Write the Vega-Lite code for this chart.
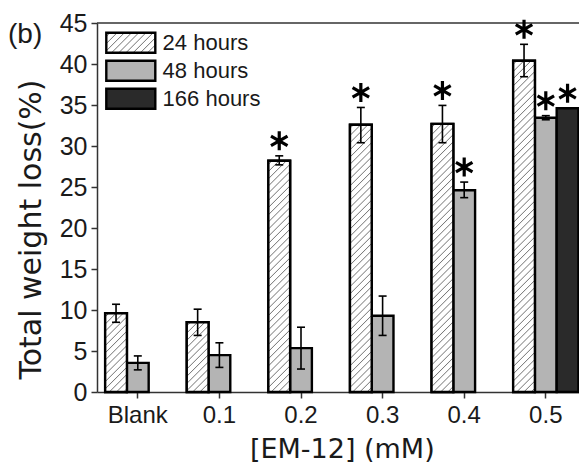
{
  "$schema": "https://vega.github.io/schema/vega-lite/v6.json",
  "width": 482,
  "height": 369,
  "autosize": {"type": "none"},
  "padding": {"left": 97, "top": 23, "right": 0, "bottom": 70},
  "background": "white",
  "config": {"view": {"stroke": null}},
  "params": [
    {"name": "hatch", "value": [
      {"offset":0.007,"color":"#fff"},{"offset":0.01,"color":"#7a7a7a"},{"offset":0.013,"color":"#fff"},
      {"offset":0.027,"color":"#fff"},{"offset":0.03,"color":"#7a7a7a"},{"offset":0.033,"color":"#fff"},
      {"offset":0.047,"color":"#fff"},{"offset":0.05,"color":"#7a7a7a"},{"offset":0.053,"color":"#fff"},
      {"offset":0.067,"color":"#fff"},{"offset":0.07,"color":"#7a7a7a"},{"offset":0.073,"color":"#fff"},
      {"offset":0.087,"color":"#fff"},{"offset":0.09,"color":"#7a7a7a"},{"offset":0.093,"color":"#fff"},
      {"offset":0.107,"color":"#fff"},{"offset":0.11,"color":"#7a7a7a"},{"offset":0.113,"color":"#fff"},
      {"offset":0.127,"color":"#fff"},{"offset":0.13,"color":"#7a7a7a"},{"offset":0.133,"color":"#fff"},
      {"offset":0.147,"color":"#fff"},{"offset":0.15,"color":"#7a7a7a"},{"offset":0.153,"color":"#fff"},
      {"offset":0.167,"color":"#fff"},{"offset":0.17,"color":"#7a7a7a"},{"offset":0.173,"color":"#fff"},
      {"offset":0.187,"color":"#fff"},{"offset":0.19,"color":"#7a7a7a"},{"offset":0.193,"color":"#fff"},
      {"offset":0.207,"color":"#fff"},{"offset":0.21,"color":"#7a7a7a"},{"offset":0.213,"color":"#fff"},
      {"offset":0.227,"color":"#fff"},{"offset":0.23,"color":"#7a7a7a"},{"offset":0.233,"color":"#fff"},
      {"offset":0.247,"color":"#fff"},{"offset":0.25,"color":"#7a7a7a"},{"offset":0.253,"color":"#fff"},
      {"offset":0.267,"color":"#fff"},{"offset":0.27,"color":"#7a7a7a"},{"offset":0.273,"color":"#fff"},
      {"offset":0.287,"color":"#fff"},{"offset":0.29,"color":"#7a7a7a"},{"offset":0.293,"color":"#fff"},
      {"offset":0.307,"color":"#fff"},{"offset":0.31,"color":"#7a7a7a"},{"offset":0.313,"color":"#fff"},
      {"offset":0.327,"color":"#fff"},{"offset":0.33,"color":"#7a7a7a"},{"offset":0.333,"color":"#fff"},
      {"offset":0.347,"color":"#fff"},{"offset":0.35,"color":"#7a7a7a"},{"offset":0.353,"color":"#fff"},
      {"offset":0.367,"color":"#fff"},{"offset":0.37,"color":"#7a7a7a"},{"offset":0.373,"color":"#fff"},
      {"offset":0.387,"color":"#fff"},{"offset":0.39,"color":"#7a7a7a"},{"offset":0.393,"color":"#fff"},
      {"offset":0.407,"color":"#fff"},{"offset":0.41,"color":"#7a7a7a"},{"offset":0.413,"color":"#fff"},
      {"offset":0.427,"color":"#fff"},{"offset":0.43,"color":"#7a7a7a"},{"offset":0.433,"color":"#fff"},
      {"offset":0.447,"color":"#fff"},{"offset":0.45,"color":"#7a7a7a"},{"offset":0.453,"color":"#fff"},
      {"offset":0.467,"color":"#fff"},{"offset":0.47,"color":"#7a7a7a"},{"offset":0.473,"color":"#fff"},
      {"offset":0.487,"color":"#fff"},{"offset":0.49,"color":"#7a7a7a"},{"offset":0.493,"color":"#fff"},
      {"offset":0.507,"color":"#fff"},{"offset":0.51,"color":"#7a7a7a"},{"offset":0.513,"color":"#fff"},
      {"offset":0.527,"color":"#fff"},{"offset":0.53,"color":"#7a7a7a"},{"offset":0.533,"color":"#fff"},
      {"offset":0.547,"color":"#fff"},{"offset":0.55,"color":"#7a7a7a"},{"offset":0.553,"color":"#fff"},
      {"offset":0.567,"color":"#fff"},{"offset":0.57,"color":"#7a7a7a"},{"offset":0.573,"color":"#fff"},
      {"offset":0.587,"color":"#fff"},{"offset":0.59,"color":"#7a7a7a"},{"offset":0.593,"color":"#fff"},
      {"offset":0.607,"color":"#fff"},{"offset":0.61,"color":"#7a7a7a"},{"offset":0.613,"color":"#fff"},
      {"offset":0.627,"color":"#fff"},{"offset":0.63,"color":"#7a7a7a"},{"offset":0.633,"color":"#fff"},
      {"offset":0.647,"color":"#fff"},{"offset":0.65,"color":"#7a7a7a"},{"offset":0.653,"color":"#fff"},
      {"offset":0.667,"color":"#fff"},{"offset":0.67,"color":"#7a7a7a"},{"offset":0.673,"color":"#fff"},
      {"offset":0.687,"color":"#fff"},{"offset":0.69,"color":"#7a7a7a"},{"offset":0.693,"color":"#fff"},
      {"offset":0.707,"color":"#fff"},{"offset":0.71,"color":"#7a7a7a"},{"offset":0.713,"color":"#fff"},
      {"offset":0.727,"color":"#fff"},{"offset":0.73,"color":"#7a7a7a"},{"offset":0.733,"color":"#fff"},
      {"offset":0.747,"color":"#fff"},{"offset":0.75,"color":"#7a7a7a"},{"offset":0.753,"color":"#fff"},
      {"offset":0.767,"color":"#fff"},{"offset":0.77,"color":"#7a7a7a"},{"offset":0.773,"color":"#fff"},
      {"offset":0.787,"color":"#fff"},{"offset":0.79,"color":"#7a7a7a"},{"offset":0.793,"color":"#fff"},
      {"offset":0.807,"color":"#fff"},{"offset":0.81,"color":"#7a7a7a"},{"offset":0.813,"color":"#fff"},
      {"offset":0.827,"color":"#fff"},{"offset":0.83,"color":"#7a7a7a"},{"offset":0.833,"color":"#fff"},
      {"offset":0.847,"color":"#fff"},{"offset":0.85,"color":"#7a7a7a"},{"offset":0.853,"color":"#fff"},
      {"offset":0.867,"color":"#fff"},{"offset":0.87,"color":"#7a7a7a"},{"offset":0.873,"color":"#fff"},
      {"offset":0.887,"color":"#fff"},{"offset":0.89,"color":"#7a7a7a"},{"offset":0.893,"color":"#fff"},
      {"offset":0.907,"color":"#fff"},{"offset":0.91,"color":"#7a7a7a"},{"offset":0.913,"color":"#fff"},
      {"offset":0.927,"color":"#fff"},{"offset":0.93,"color":"#7a7a7a"},{"offset":0.933,"color":"#fff"},
      {"offset":0.947,"color":"#fff"},{"offset":0.95,"color":"#7a7a7a"},{"offset":0.953,"color":"#fff"},
      {"offset":0.967,"color":"#fff"},{"offset":0.97,"color":"#7a7a7a"},{"offset":0.973,"color":"#fff"},
      {"offset":0.987,"color":"#fff"},{"offset":0.99,"color":"#7a7a7a"},{"offset":0.993,"color":"#fff"}
    ]}
  ],
  "data": {"values": [
    {"conc": "Blank", "series": "24 hours", "value": 9.6, "lo": 8.5, "hi": 10.7, "star": false},
    {"conc": "Blank", "series": "48 hours", "value": 3.55, "lo": 2.7, "hi": 4.4, "star": false},
    {"conc": "0.1", "series": "24 hours", "value": 8.5, "lo": 6.9, "hi": 10.1, "star": false},
    {"conc": "0.1", "series": "48 hours", "value": 4.5, "lo": 3.0, "hi": 6.0, "star": false},
    {"conc": "0.2", "series": "24 hours", "value": 28.2, "lo": 27.7, "hi": 28.8, "star": true},
    {"conc": "0.2", "series": "48 hours", "value": 5.35, "lo": 2.8, "hi": 7.9, "star": false},
    {"conc": "0.3", "series": "24 hours", "value": 32.6, "lo": 30.4, "hi": 34.7, "star": true},
    {"conc": "0.3", "series": "48 hours", "value": 9.3, "lo": 6.9, "hi": 11.7, "star": false},
    {"conc": "0.4", "series": "24 hours", "value": 32.7, "lo": 30.4, "hi": 34.95, "star": true},
    {"conc": "0.4", "series": "48 hours", "value": 24.6, "lo": 23.7, "hi": 25.6, "star": true},
    {"conc": "0.5", "series": "24 hours", "value": 40.4, "lo": 38.45, "hi": 42.4, "star": true},
    {"conc": "0.5", "series": "48 hours", "value": 33.45, "lo": 33.2, "hi": 33.7, "star": true},
    {"conc": "0.5", "series": "166 hours", "value": 34.6, "lo": 34.6, "hi": 34.6, "star": true}
  ]},
  "layer": [
    {
      "data": {"values": [{}]},
      "mark": {"type": "rule", "color": "#333", "strokeWidth": 1.5},
      "encoding": {"y": {"datum": 45, "type": "quantitative"}}
    },
    {
      "mark": {"type": "bar", "stroke": "black", "strokeWidth": 2.4},
      "encoding": {
        "x": {
          "field": "conc", "type": "nominal", "sort": null,
          "scale": {"domain": ["Blank", "0.1", "0.2", "0.3", "0.4", "0.5"], "range": [0, 489.6], "paddingInner": 0.2, "paddingOuter": 0.1},
          "axis": {
            "title": "[EM-12] (mM)", "labelAngle": 0, "labelFont": "Liberation Sans", "labelFontSize": 24,
            "labelColor": "#1a1a1a", "labelPadding": 5, "tickSize": 6, "tickColor": "#333", "tickWidth": 1.5,
            "domainColor": "#333", "domainWidth": 1.5, "titleFont": "DejaVu Sans", "titleFontSize": 27,
            "titleFontWeight": "normal", "titleColor": "#1a1a1a", "titlePadding": 9, "grid": false
          }
        },
        "xOffset": {"field": "series", "type": "nominal", "sort": null, "scale": {"domain": ["24 hours", "48 hours", "166 hours"], "paddingInner": 0, "paddingOuter": 0}},
        "y": {
          "field": "value", "type": "quantitative", "stack": null,
          "scale": {"domain": [0, 45], "nice": false, "zero": true},
          "axis": {
            "title": "Total weight loss(%)",
            "values": [0, 2.5, 5, 7.5, 10, 12.5, 15, 17.5, 20, 22.5, 25, 27.5, 30, 32.5, 35, 37.5, 40, 42.5, 45],
            "format": "d",
            "labelExpr": "datum.value % 5 === 0 ? datum.label : ''",
            "tickSize": {"condition": {"test": "datum.value % 5 === 0", "value": 6}, "value": 3},
            "labelFont": "Liberation Sans", "labelFontSize": 25, "labelColor": "#1a1a1a", "labelPadding": 4,
            "tickColor": "#333", "tickWidth": 1.5, "domainColor": "#333", "domainWidth": 1.5,
            "titleFont": "DejaVu Sans", "titleFontSize": 30, "titleFontWeight": "normal", "titleColor": "#1a1a1a",
            "titlePadding": 13, "titleY": 206, "grid": false
          }
        },
        "fill": {
          "field": "series", "type": "nominal", "sort": null,
          "scale": {"domain": ["24 hours", "48 hours", "166 hours"], "range": [{"expr": "{gradient: 'linear', x1: 0, y1: 0, x2: 6.298, y2: 2.57, stops: hatch}"}, "#b4b4b4", "#2a2a2a"]},
          "legend": {
            "title": null, "orient": "none", "legendX": 22.3, "legendY": 8.3, "padding": 0,
            "symbolType": "M-2.45,-1H2.45V1H-2.45Z", "symbolSize": 400,
            "symbolStrokeColor": "black", "symbolStrokeWidth": 2.4, "symbolOpacity": 1,
            "labelFont": "Liberation Sans", "labelFontSize": 22, "labelColor": "#1a1a1a", "labelOffset": 20.3,
            "rowPadding": -3, "labelLimit": 300
          }
        }
      }
    },
    {
      "transform": [{"filter": "datum.series === '24 hours'"}],
      "mark": {
        "type": "bar", "stroke": "black", "strokeWidth": 2.4,
        "fill": {"expr": "{gradient: 'linear', x1: 0, y1: 0, x2: 21.76*360/(473.5+pow(datum.value*8.2,2)), y2: datum.value*8.2*360/(473.5+pow(datum.value*8.2,2)), stops: hatch}"}
      },
      "encoding": {
        "x": {"field": "conc", "type": "nominal", "sort": null},
        "xOffset": {"field": "series", "type": "nominal", "sort": null},
        "y": {"field": "value", "type": "quantitative", "stack": null}
      }
    },
    {
      "mark": {"type": "rule", "color": "black", "strokeWidth": 1.6},
      "encoding": {
        "x": {"field": "conc", "type": "nominal", "sort": null},
        "xOffset": {"field": "series", "type": "nominal", "sort": null},
        "y": {"field": "lo", "type": "quantitative"},
        "y2": {"field": "hi"}
      }
    },
    {
      "mark": {"type": "tick", "color": "black", "size": 8, "thickness": 1.6, "opacity": 1},
      "encoding": {
        "x": {"field": "conc", "type": "nominal", "sort": null},
        "xOffset": {"field": "series", "type": "nominal", "sort": null},
        "y": {"field": "lo", "type": "quantitative"}
      }
    },
    {
      "mark": {"type": "tick", "color": "black", "size": 8, "thickness": 1.6, "opacity": 1},
      "encoding": {
        "x": {"field": "conc", "type": "nominal", "sort": null},
        "xOffset": {"field": "series", "type": "nominal", "sort": null},
        "y": {"field": "hi", "type": "quantitative"}
      }
    },
    {
      "transform": [{"filter": "datum.star"}],
      "mark": {
        "type": "point", "shape": "M0,-1V1M-0.87,-0.5L0.87,0.5M-0.87,0.5L0.87,-0.5",
        "size": 361, "filled": false, "stroke": "black", "strokeWidth": 3.2, "opacity": 1, "yOffset": -15
      },
      "encoding": {
        "x": {"field": "conc", "type": "nominal", "sort": null},
        "xOffset": {"field": "series", "type": "nominal", "sort": null},
        "y": {"field": "hi", "type": "quantitative"}
      }
    },
    {
      "data": {"values": [{"label": "(b)"}]},
      "mark": {"type": "text", "align": "left", "baseline": "alphabetic", "dx": -330, "dy": 20, "font": "Liberation Sans", "fontSize": 28, "color": "#1a1a1a"},
      "encoding": {
        "y": {"datum": 45, "type": "quantitative"},
        "text": {"field": "label"}
      }
    }
  ]
}
